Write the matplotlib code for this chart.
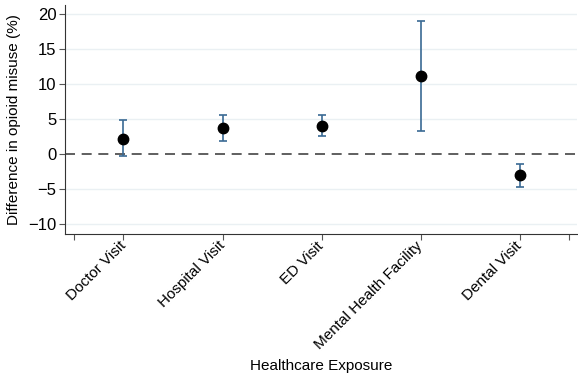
import numpy as np
import matplotlib.pyplot as plt

plt.rcParams['font.family'] = ['Liberation Sans', 'DejaVu Sans']

labels = ['Doctor Visit', 'Hospital Visit', 'ED Visit', 'Mental Health Facility', 'Dental Visit']
est = [2.2, 3.65, 4.0, 11.1, -3.05]
lo = [-0.3, 1.9, 2.5, 3.3, -4.65]
hi = [4.8, 5.5, 5.5, 18.95, -1.5]

x = np.arange(1, len(labels) + 1)
est = np.array(est)
err = [est - np.array(lo), np.array(hi) - est]

fig = plt.figure(figsize=(5.78, 3.78), dpi=100)
ax = fig.add_axes([0.1125, 0.381, 0.886, 0.606])

for y in [-10, -5, 5, 10, 15, 20]:
    ax.axhline(y, color='#eaf0f3', lw=1, zorder=0)
ax.axhline(0, color='#444444', lw=1.2, ls=(0, (6, 4)), zorder=1)

ax.errorbar(x, est, yerr=err, fmt='none', ecolor='#3a6a94', elinewidth=1.2,
            capsize=3, capthick=1.2, zorder=2)
ax.plot(x, est, 'o', color='black', ms=7.5, zorder=3)

ax.set_xlim(0.41, 5.58)
ax.set_ylim(-11.43, 21.3)
ax.set_xticks([0.5, 1, 2, 3, 4, 5, 5.5])
ax.set_xticklabels([''] + labels + [''], rotation=45, ha='right', va='center',
                   rotation_mode='anchor', fontsize=11)
ax.set_yticks([-10, -5, 0, 5, 10, 15, 20])
ax.tick_params(axis='y', labelsize=12, length=4, color='#555555', pad=2)
ax.tick_params(axis='x', length=4, color='#555555', pad=3)
ax.spines['top'].set_visible(False)
ax.spines['right'].set_visible(False)
ax.spines['left'].set_color('#333333')
ax.spines['bottom'].set_color('#333333')
ax.set_ylabel('Difference in opioid misuse (%)', fontsize=11)
ax.yaxis.set_label_coords(-0.085, 0.5)
ax.set_xlabel('Healthcare Exposure', fontsize=11, va='center')
ax.xaxis.set_label_coords(0.5, -0.575)

fig.savefig('out.png', dpi=100)
